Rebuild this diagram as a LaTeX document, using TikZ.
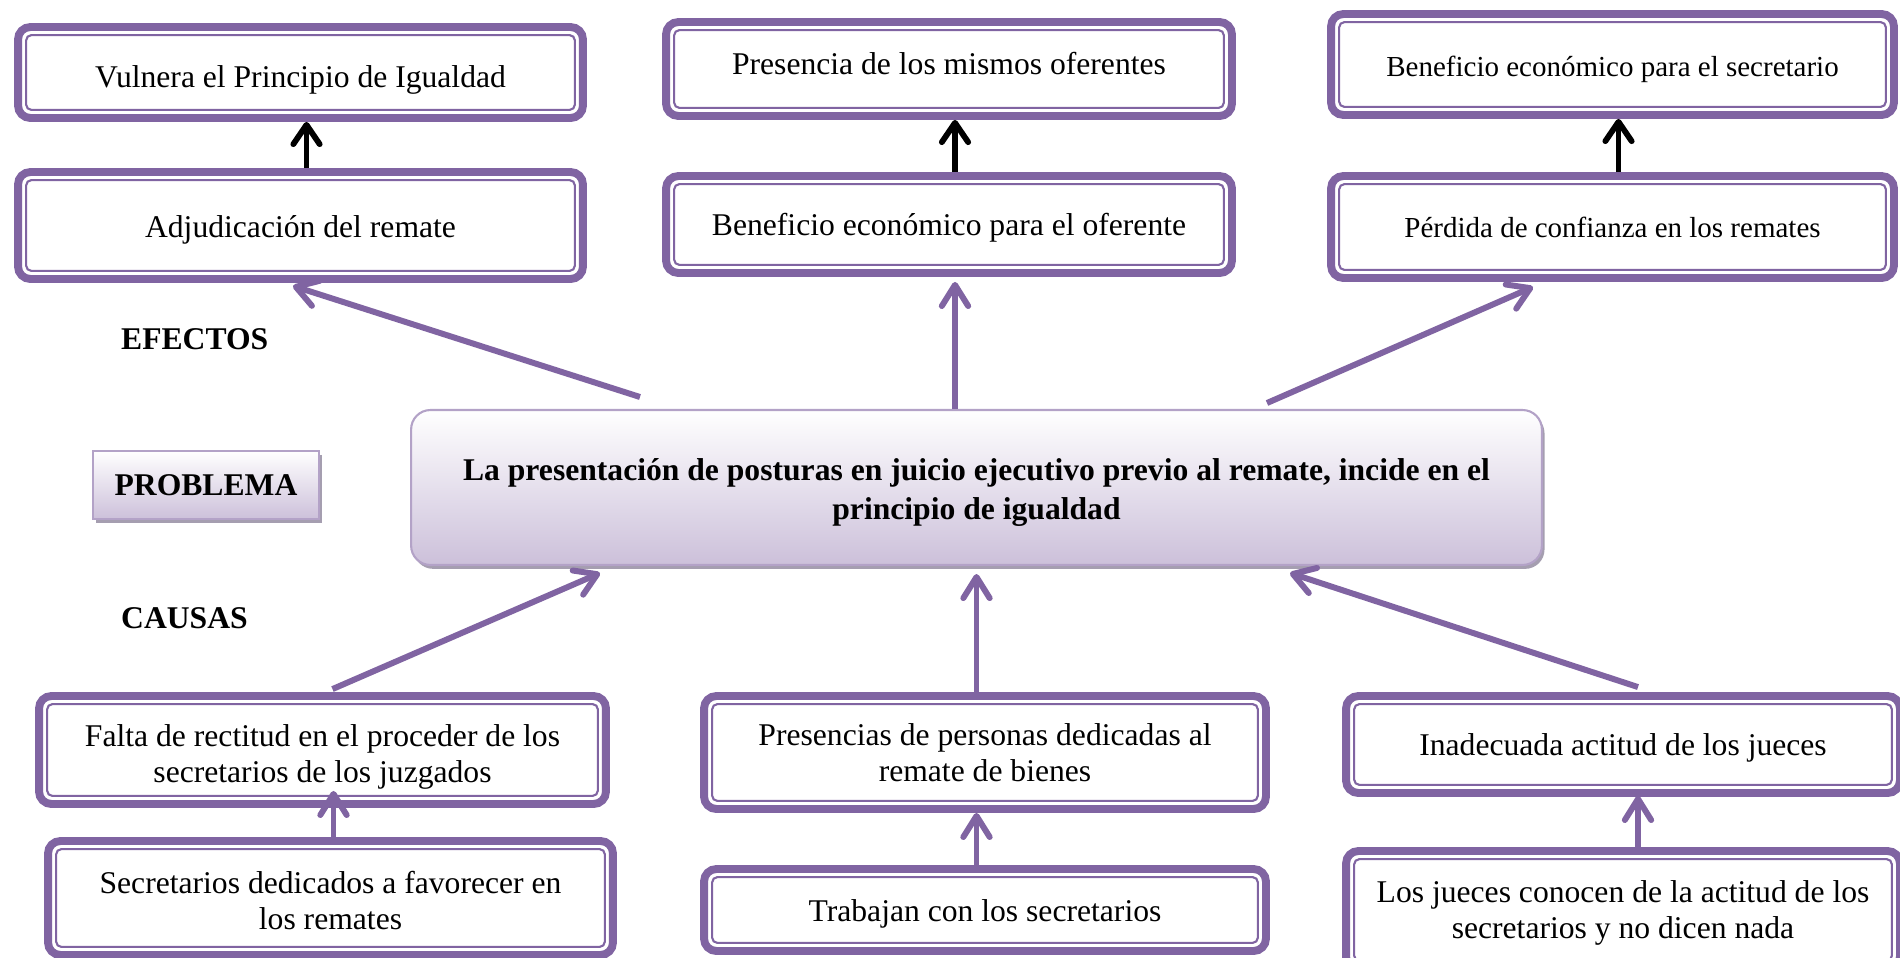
\documentclass[tikz,border=0pt]{standalone}
\usepackage{fontspec}
\setmainfont{Liberation Serif}
\usetikzlibrary{arrows.meta,calc,shadows}

\definecolor{morado}{RGB}{128,100,162}
\definecolor{lila}{RGB}{179,162,199}
\definecolor{lilaclaro}{RGB}{204,192,218}
\definecolor{sombra}{RGB}{165,158,176}

\tikzset{
  caja/.style={draw=morado, line width=4.5pt, rounded corners=7pt, fill=white,
    align=center, inner sep=2pt, font=\fontsize{18}{20.7}\selectfont,
    path picture={\draw[borde] ([shift={(4.6pt,4.6pt)}]path picture bounding box.south west)
      rectangle ([shift={(-4.6pt,-4.6pt)}]path picture bounding box.north east);}},
  cajachica/.style={caja, font=\fontsize{16.5}{19}\selectfont},
  bajar/.style={execute at begin node={\rule{0pt}{#1}}},
  borde/.style={draw=morado, line width=1.2pt, rounded corners=3pt},
  flecha/.style={draw=morado, line width=3.4pt, -{Straight Barb[length=12pt,width=15pt,round]}},
  flechanegra/.style={draw=black, line width=3.3pt, -{Straight Barb[length=11pt,width=15pt,round]}},
  problema/.style={draw=lila, line width=1.2pt, top color=white, bottom color=lilaclaro,
    drop shadow={shadow xshift=1.5pt, shadow yshift=-2.2pt, fill=sombra, opacity=1}},
  titulo/.style={font=\bfseries\fontsize{18}{21}\selectfont, anchor=west}
}

\begin{document}
\begin{tikzpicture}[x=0.02cm,y=-0.02cm]

\useasboundingbox (0,0) rectangle (1900,957);

% Efectos
\node[caja, bajar=20.5pt, minimum width=11.30cm, minimum height=1.82cm] (a1) at (300.5,72.5) {Vulnera el Principio de Igualdad};
\node[caja, minimum width=11.32cm, minimum height=1.88cm] (a2) at (949,69) {\raisebox{6.5pt}{Presencia de los mismos oferentes}};
\node[cajachica, bajar=17pt, minimum width=11.26cm, minimum height=2.02cm] (a3) at (1612.5,64.5) {Beneficio económico para el secretario};
\node[caja, bajar=18pt, minimum width=11.30cm, minimum height=2.14cm] (b1) at (300.5,225.5) {Adjudicación del remate};
\node[caja, bajar=16.7pt, minimum width=11.32cm, minimum height=1.94cm] (b2) at (949,224.5) {Beneficio económico para el oferente};
\node[cajachica, minimum width=11.26cm, minimum height=2.04cm] (b3) at (1612.5,227) {Pérdida de confianza en los remates};

% Problema
\node[problema, rounded corners=11pt, minimum width=22.62cm, minimum height=3.10cm] (prob) at (976.5,487.5) {};
\node[align=center, font=\bfseries\fontsize{18}{22.5}\selectfont] (probtexto) at ($(prob.center)+(0,5)$)
  {La presentación de posturas en juicio ejecutivo previo al remate, incide en el\\principio de igualdad};
\node[problema, minimum width=4.52cm, minimum height=1.36cm,
  font=\bfseries\fontsize{18}{21}\selectfont] (etq) at (206,485) {PROBLEMA};

\node[titulo] (efectos) at (115,339) {EFECTOS};
\node[titulo] (causas) at (115,618) {CAUSAS};

% Causas
\node[caja, minimum width=11.34cm, minimum height=2.16cm] (c1) at (322.5,750) {\rule{0pt}{20.7pt}Falta de rectitud en el proceder de los\\secretarios de los juzgados};
\node[caja, minimum width=11.24cm, minimum height=2.26cm] (c2) at (985,752.5) {Presencias de personas dedicadas al\\remate de bienes};
\node[caja, bajar=16.7pt, minimum width=11.08cm, minimum height=1.94cm] (c3) at (1623,744.5) {Inadecuada actitud de los jueces};
\node[caja, minimum width=11.30cm, minimum height=2.28cm] (d1) at (330.5,898) {\rule{0pt}{15.5pt}Secretarios dedicados a favorecer en\\los remates};
\node[caja, bajar=16.7pt, minimum width=11.24cm, minimum height=1.64cm] (d2) at (985,910) {Trabajan con los secretarios};
\node[caja, minimum width=11.08cm, minimum height=2.36cm] (d3) at (1623,910) {\rule{0pt}{15.5pt}Los jueces conocen de la actitud de los\\secretarios y no dicen nada};

% black arrows
\draw[flechanegra] ($(b1.north)+(6,0)$) -- ($(a1.south)+(6,0)$);
\draw[flechanegra] ($(b2.north)+(6,0)$) -- ($(a2.south)+(6,0)$);
\draw[flechanegra] ($(b3.north)+(6,0)$) -- ($(a3.south)+(6,0)$);

% problem to effects
\coordinate (s1) at (640,397);
\coordinate (s3) at (1267,403);
\draw[flecha] (s1) -- ($(b1.south)+(-7.5,3)$);
\draw[flecha] ($(prob.north -| b2.south)+(6,0)$) -- ($(b2.south)+(6,5)$);
\draw[flecha] (s3) -- ($(b3.south)+(-79.5,5)$);

% causes to problem
\coordinate (t1) at (600,573);
\coordinate (t3) at (1290,573);
\draw[flecha] ($(c1.north)+(10,-3)$) -- (t1);
\draw[flecha] (c2.north -| prob.south) -- ($(prob.south)+(0,8)$);
\draw[flecha] ($(c3.north)+(15,-5)$) -- (t3);

% lower causes
\draw[flecha] ($(d1.north)+(3,0)$) -- ($(d1.north |- c1.south)+(3,-17)$);
\draw[flecha] (d2.north -| prob.south) -- (c2.south -| prob.south);
\draw[flecha] ($(d3.north)+(15,0)$) -- ($(c3.south)+(15,-1)$);

\end{tikzpicture}
\end{document}
